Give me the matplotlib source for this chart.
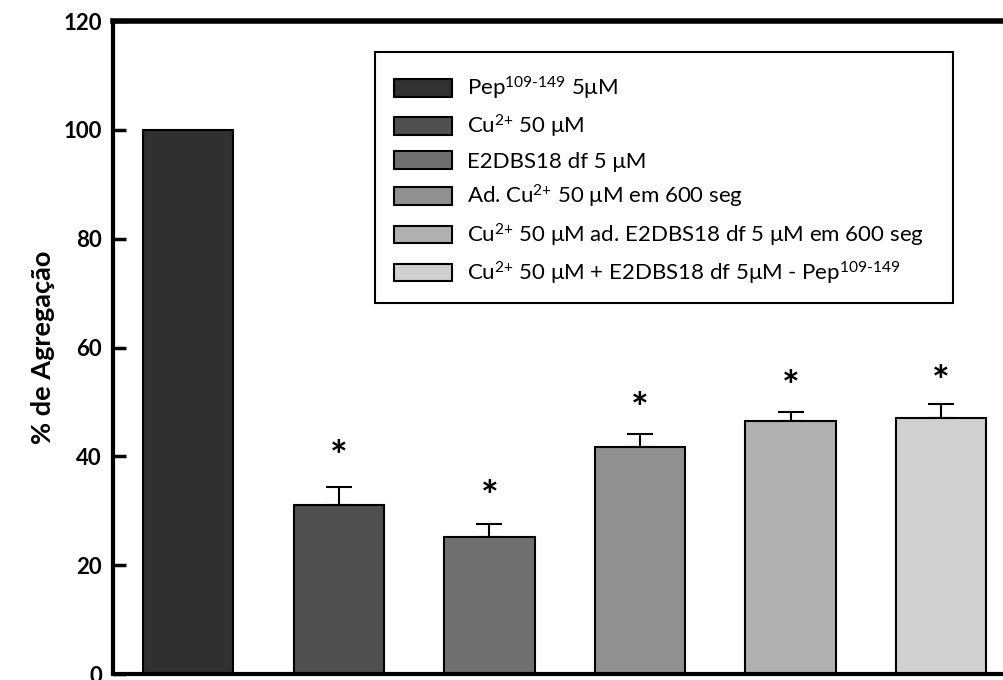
import matplotlib.pyplot as plt
import numpy as np
from matplotlib.patches import Patch, Rectangle

plt.rcParams['font.family'] = ['Lato', 'DejaVu Sans']
plt.rcParams['mathtext.fontset'] = 'custom'
plt.rcParams['mathtext.rm'] = 'Lato'
plt.rcParams['mathtext.default'] = 'regular'

# % de agregação por condição (média + erro padrão)
rotulos = [r'Pep$^{\text{109-149}}$ 5μM',
           r'Cu$^{\text{2+}}$ 50 μM',
           r'E2DBS18 df 5 μM',
           r'Ad. Cu$^{\text{2+}}$ 50 μM em 600 seg',
           r'Cu$^{\text{2+}}$ 50 μM ad. E2DBS18 df 5 μM em 600 seg',
           r'Cu$^{\text{2+}}$ 50 μM + E2DBS18 df 5μM - Pep$^{\text{109-149}}$']
media = [100.0, 31.1, 25.2, 41.8, 46.5, 47.0]
erro = [0.0, 3.2, 2.3, 2.3, 1.7, 2.6]
# altura dos asteriscos (p < 0,05 vs. Pep)
estrela_y = [None, 39.6, 32.2, 48.3, 52.4, 53.3]
cores = ['#303030', '#505050', '#707070', '#909090', '#b0b0b0', '#d0d0d0']

fig = plt.figure(figsize=(10.04, 6.8), dpi=100)
ax = fig.add_axes([0.1125, 0.0088, 0.9, 0.9603])

x = np.arange(len(media))
ax.bar(x, media, width=0.6, color=cores, edgecolor='black', linewidth=1.5, zorder=2)
ax.errorbar(x[1:], media[1:], yerr=[np.zeros(len(erro) - 1), erro[1:]], fmt='none',
            ecolor='black', elinewidth=1.5, capsize=9.5, capthick=1.5, zorder=1)

for xi, ys in zip(x, estrela_y):
    if ys is not None:
        ax.text(xi, ys, '*', ha='center', va='center', fontsize=30, fontweight='bold')

ax.set_xlim(-0.5, 5.5)
ax.set_ylim(0, 120)
ax.set_yticks(np.arange(0, 121, 20))
ax.set_xticks([])
ax.tick_params(axis='y', direction='in', length=9, width=2.5, labelsize=16, pad=8)
for lab in ax.get_yticklabels():
    lab.set_fontweight('bold')
for side in ['left', 'bottom']:
    ax.spines[side].set_linewidth(3)
ax.spines['top'].set_linewidth(4)
ax.spines['right'].set_visible(False)

ax.set_ylabel('% de Agregação', fontsize=19.5, fontweight='bold', labelpad=6)

# legenda sem moldura + caixa desenhada à parte
handles = [Patch(facecolor=c, edgecolor='black', linewidth=1.5) for c in cores]
leg = fig.legend(handles, rotulos, loc='upper left', bbox_to_anchor=(0.3924, 0.890),
                 bbox_transform=fig.transFigure, fontsize=16, frameon=False,
                 handlelength=2.6, handleheight=0.84, handletextpad=0.68, labelspacing=0.50,
                 borderpad=0, borderaxespad=0)
fig.patches.append(Rectangle((0.3735, 0.5544), 0.5757, 0.369, transform=fig.transFigure,
                             facecolor='white', edgecolor='black', linewidth=1.5, zorder=0))

plt.savefig('out.png', dpi=100)
